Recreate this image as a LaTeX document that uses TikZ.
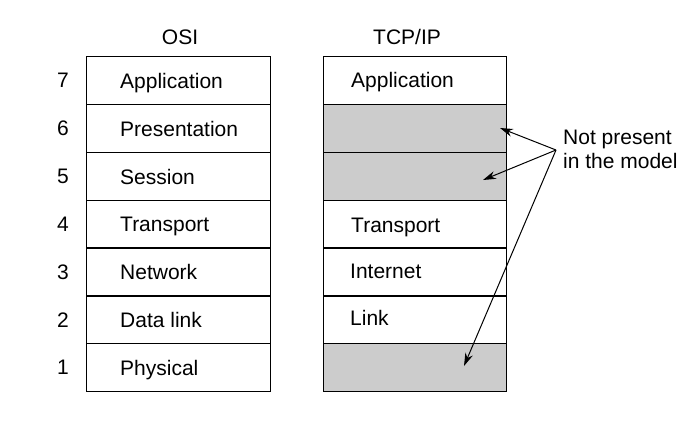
\documentclass[tikz,border=0pt]{standalone}
\usepackage{fontspec}
\setmainfont{Liberation Sans}
\usetikzlibrary{arrows.meta}
\begin{document}
\begin{tikzpicture}[x=1pt,y=-1pt,
  cellbox/.style={draw=black,line width=1.2pt,minimum height=47.9pt,inner sep=0pt,anchor=north west},
  osicell/.style={cellbox,minimum width=184pt},
  tcpcell/.style={cellbox,minimum width=183pt},
  absent/.style={fill=black!20},
  celltext/.style={anchor=base west,inner sep=0pt,font=\fontsize{21}{25}\selectfont},
  plain/.style={anchor=base,inner sep=0pt,font=\fontsize{21}{25}\selectfont},
  pointer/.style={line width=1pt,-{Stealth[length=13pt,width=8pt]}}]
\useasboundingbox (0,0) rectangle (700,429);
% headers
\node[plain] (hosi) at (180,44) {OSI};
\node[plain] (htcp) at (407,44) {TCP/IP};
% OSI column
\foreach \i/\n/\t in {0/7/Application,1/6/Presentation,2/5/Session,3/4/Transport,4/3/Network,5/2/Data link,6/1/Physical}{
  \node[osicell] (o\n) at (86,{56+47.86*\i}) {};
  \node[celltext] (ot\n) at ([xshift=34pt,yshift=-7.8pt]o\n.west) {\t};
  \node[plain] (num\n) at (63,{56+47.86*\i+23.9+7.8}) {\n};
}
% TCP/IP column
\node[tcpcell] (t7) at (323,56) {};
\node[tcpcell,absent] (t6) at (323,{56+47.86}) {};
\node[tcpcell,absent] (t5) at (323,{56+47.86*2}) {};
\node[tcpcell] (t4) at (323,{56+47.86*3}) {};
\node[tcpcell] (t3) at (323,{56+47.86*4}) {};
\node[tcpcell] (t2) at (323,{56+47.86*5}) {};
\node[tcpcell,absent] (t1) at (323,{56+47.86*6}) {};
\node[celltext] (tt7) at ([xshift=28pt,yshift=-7.3pt]t7.west) {Application};
\node[celltext] (tt4) at ([xshift=28pt,yshift=-8pt]t4.west) {Transport};
\node[celltext] (tt3) at ([xshift=27pt,yshift=-6.8pt]t3.west) {Internet};
\node[celltext] (tt2) at ([xshift=27pt,yshift=-5.6pt]t2.west) {Link};
% note
\node[celltext] (note1) at (563,144.5) {Not present};
\node[celltext] (note2) at (563,168.5) {in the model};
\coordinate (src) at (556,150);
\coordinate (a6) at (500,128);
\coordinate (a5) at (483,180);
\coordinate (a1) at (464,366);
\draw[pointer] (src) -- (a6);
\draw[pointer] (src) -- (a5);
\draw[pointer] (src) -- (a1);
\end{tikzpicture}
\end{document}
